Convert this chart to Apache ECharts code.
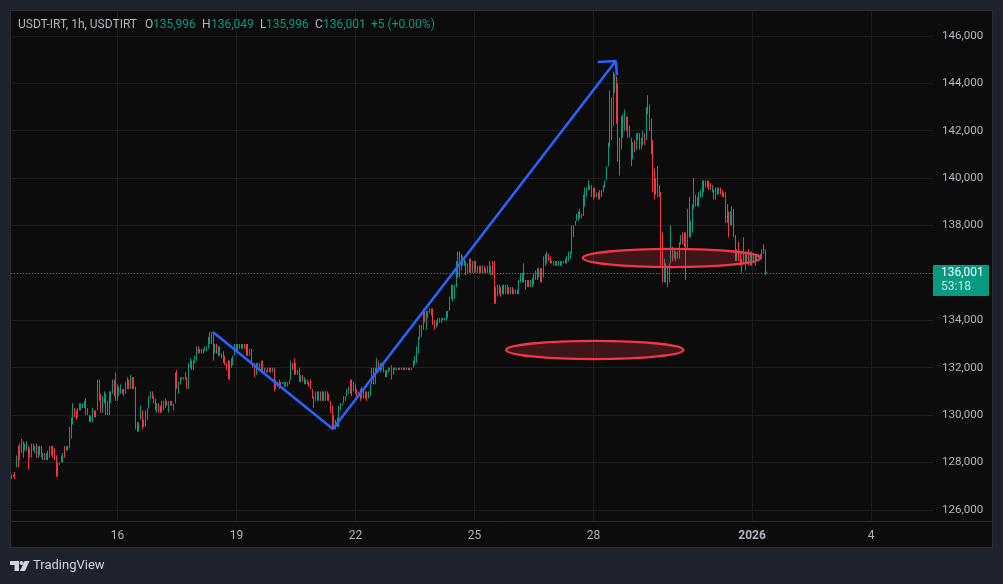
<!DOCTYPE html>
<html><head><meta charset="utf-8">
<style>
html,body{margin:0;padding:0;background:#1e222d;width:1003px;height:584px;overflow:hidden}
#frame{position:absolute;left:10px;top:10px;width:981px;height:536px;background:#0c0c0c;border:1px solid #2a2e39}
#chart{position:absolute;left:0;top:0;width:1003px;height:584px}
</style>
<script src="https://cdn.jsdelivr.net/npm/echarts@6/dist/echarts.min.js"></script>
</head><body><div id="frame"></div><div id="chart"></div>
<script>
const PRICE_UNIT = 100;
const firstOpen = 1274;
// Candles that opened away from the previous close: slot -> open
const gapOpens = {394:1372};
const highs = [
1275,1275,1276,1283,1287,1288,1290,1289,1288,1289,
1287,1286,1288,1288,1287,1288,1287,1287,1287,1284,
1284,1284,1285,1287,1287,1287,1286,1283,1280,1280,
1283,1284,1287,1287,1287,1295,1299,1305,1303,1302,
1303,1305,1305,1305,1306,1307,1303,1300,1300,1303,
1302,1302,1315,1315,1309,1308,1310,1309,1306,1310,
1310,1315,1315,1318,1313,1312,1313,1311,1311,1314,
1316,1315,1317,1316,1316,1312,1297,1297,1304,1302,
1298,1302,1303,1308,1310,1310,1308,1307,1305,1305,
1304,1306,1306,1307,1306,1306,1306,1306,1305,1318,
1319,1314,1316,1316,1316,1318,1316,1322,1324,1323,
1323,1325,1329,1329,1328,1328,1328,1329,1329,1333,
1335,1335,1335,1330,1330,1329,1329,1326,1327,1325,
1322,1323,1323,1324,1325,1330,1330,1330,1330,1330,
1330,1330,1330,1330,1328,1328,1322,1322,1322,1322,
1322,1323,1323,1320,1319,1320,1320,1320,1320,1320,
1315,1314,1315,1314,1314,1314,1314,1314,1315,1323,1322,
1324,1322,1319,1320,1317,1317,1316,1315,1315,1314,
1315,1311,1308,1310,1310,1310,1310,1310,1310,1310,
1310,1309,1306,1304,1300,1298,1299,1304,
1305,1305,1308,1308,1311,1312,1315,1315,1314,1313,
1311,1310,1311,1312,1311,1310,1310,1310,1313,1320,
1320,1320,1324,1323,1322,1322,1321,1319,1319,1320,
1320,1321,1320,1320,1320,1320,1320,1320,1320,1320,
1320,1320,1320,1320,1323,1325,1329,1333,1338,1338,1345,
1345,1344,1344,1345,1345,1345,1340,1340,1341,1341,
1341,1341,1341,1344,1344,1350,1355,1355,1355,1365,
1369,1369,1368,1367,1367,1365,1364,1366,1366,1365,
1365,1365,1363,1363,1363,1363,1363,1362,1363,1365,
1363,1365,1365,1354,1355,1355,1354,1355,1355,1355,
1355,1354,1354,1354,1353,1353,1353,1357,1360,1360,
1364,1357,1357,1357,1357,1358,1360,1361,1362,1362,
1362,1362,1367,1368,1369,1368,1367,1365,1365,1365,
1365,1365,1365,1365,1365,1366,1367,1369,1369,
1380,1380,1382,1385,1386,1387,1385,1393,1396,1396,
1399,1397,1397,1396,1396,1394,1394,1395,1395,1397,
1399,1405,1415,1437,1434,1445,1444,1443,1440,1417,
1426,1427,1429,1426,1426,1422,1417,1415,1416,1419,
1419,1419,1417,1420,1419,1430,1435,1431,1425,1416,
1404,1400,1405,1397,1394,1377,1366,1364,1363,1364,
1380,1371,1370,1369,1369,1373,1376,1377,1377,1377,
1387,1392,1382,1389,1400,1393,1392,1394,1395,1399,
1399,1399,1399,1399,1398,1397,1395,1396,1396,1396,
1396,1395,1394,1394,1389,1386,1386,1388,1387,1376,
1370,1373,1369,1366,1375,1368,1369,1370,1369,1369,
1368,1368,1368,1368,1368,1370,1372,1370,1360.49];
const lows = [
1273,1274,1273,1278,1278,1281,1284,1282,1285,1285,
1277,1282,1282,1285,1284,1282,1282,1283,1282,1281,
1281,1281,1281,1282,1283,1282,1281,1274,1274,1279,
1280,1280,1282,1285,1285,1286,1290,1296,1299,1298,
1299,1302,1302,1303,1303,1300,1300,1297,1297,1297,
1299,1299,1302,1306,1301,1301,1305,1300,1300,1300,
1305,1309,1308,1306,1306,1308,1309,1309,1308,1309,
1311,1311,1311,1311,1311,1294,1293,1293,1298,1294,
1295,1295,1298,1303,1307,1307,1305,1302,1301,1301,
1301,1301,1302,1303,1304,1301,1304,1304,1302,1305,
1311,1309,1313,1315,1315,1315,1311,1311,1320,1319,
1319,1322,1323,1326,1326,1326,1326,1327,1327,1328,
1330,1330,1323,1326,1326,1325,1325,1324,1322,1321,
1319,1315,1315,1320,1321,1325,1327,1326,1328,1328,
1328,1328,1325,1325,1325,1322,1320,1316,1317,1320,
1320,1319,1318,1318,1318,1318,1318,1318,1318,1310,
1311,1312,1311,1312,1313,1312,1312,1312,1313,1315,1319,
1317,1317,1317,1314,1314,1314,1313,1313,1313,1312,
1311,1307,1303,1306,1306,1306,1306,1306,1306,1306,
1306,1306,1301,1294,1294,1294,1295,1295,
1302,1304,1305,1306,1308,1309,1309,1308,1310,1309,
1308,1308,1306,1307,1307,1307,1306,1307,1308,1313,
1313,1313,1318,1318,1318,1319,1318,1316,1316,1318,
1319,1315,1317,1319,1319,1319,1319,1319,1319,1319,
1319,1319,1319,1319,1320,1321,1322,1326,1332,1333,1336,
1339,1336,1341,1343,1342,1338,1336,1337,1338,1339,
1339,1340,1340,1340,1341,1344,1349,1348,1349,1354,
1358,1358,1361,1363,1363,1359,1360,1360,1360,1360,
1360,1360,1360,1360,1360,1360,1360,1360,1360,1360,
1359,1359,1347,1347,1350,1351,1350,1351,1351,1351,
1351,1351,1351,1351,1351,1351,1351,1351,1356,1356,
1356,1353,1354,1354,1354,1354,1355,1357,1357,1358,
1356,1356,1358,1363,1364,1365,1364,1364,1363,1363,
1363,1363,1363,1363,1364,1364,1364,1365,1366,
1368,1375,1380,1382,1382,1383,1383,1384,1388,1392,
1395,1395,1392,1391,1392,1392,1391,1391,1392,1394,
1396,1399,1405,1413,1416,1422,1436,1423,1407,1401,
1412,1417,1420,1420,1417,1417,1405,1408,1411,1412,
1416,1412,1412,1414,1414,1416,1427,1420,1410,1394,
1391,1393,1392,1392,1363,1356,1356,1356,1354,1356,
1364,1365,1366,1365,1366,1366,1372,1372,1371,1357,
1370,1375,1375,1377,1387,1388,1388,1388,1392,1392,
1394,1396,1396,1395,1395,1394,1391,1391,1393,1393,
1393,1392,1392,1381,1381,1375,1380,1380,1375,1365,
1365,1365,1364,1360,1364,1361,1364,1363,1363,1363,
1364,1363,1365,1366,1366,1366,1368,1359,1359.96];
const closes = [
1275,1275,1274,1282,1279,1287,1289,1284,1287,1288,
1284,1286,1287,1285,1286,1283,1286,1285,1283,1284,
1282,1283,1285,1286,1286,1283,1282,1276,1279,1280,
1282,1283,1282,1286,1285,1295,1298,1303,1300,1299,
1302,1304,1304,1305,1306,1301,1302,1298,1299,1302,
1301,1300,1314,1315,1302,1307,1309,1301,1305,1309,
1310,1314,1310,1313,1308,1311,1312,1309,1310,1313,
1315,1314,1316,1312,1315,1295,1294,1297,1303,1296,
1297,1296,1302,1308,1309,1307,1306,1303,1304,1303,
1302,1305,1304,1306,1305,1306,1305,1304,1305,1317,
1313,1314,1315,1316,1316,1315,1312,1321,1323,1320,
1322,1324,1328,1326,1327,1326,1327,1327,1328,1332,
1331,1334,1328,1329,1327,1328,1326,1325,1323,1322,
1320,1317,1322,1323,1324,1329,1330,1327,1329,1328,
1329,1328,1327,1326,1327,1323,1321,1318,1321,1322,
1321,1322,1319,1319,1318,1319,1320,1319,1320,1311,
1312,1313,1314,1313,1313,1314,1312,1313,1314,1322,1321,
1318,1320,1318,1315,1316,1315,1315,1314,1314,1313,
1312,1308,1304,1309,1307,1309,1307,1309,1307,1309,
1307,1306,1302,1295,1297,1295,1298,1303,
1304,1305,1307,1308,1310,1311,1310,1309,1311,1310,
1309,1310,1307,1311,1309,1309,1308,1309,1313,1319,
1317,1319,1323,1319,1321,1320,1319,1317,1318,1320,
1320,1320,1318,1319,1320,1319,1320,1319,1320,1319,
1320,1319,1320,1320,1323,1324,1328,1332,1337,1338,1343,
1340,1343,1343,1344,1343,1339,1337,1338,1340,1340,
1340,1341,1341,1344,1344,1349,1351,1354,1355,1364,
1368,1362,1363,1364,1365,1360,1361,1365,1360,1364,
1361,1361,1361,1362,1361,1362,1361,1361,1362,1361,
1362,1360,1355,1351,1353,1354,1352,1354,1352,1353,
1352,1351,1352,1351,1352,1351,1352,1356,1358,1359,
1357,1354,1356,1355,1356,1357,1356,1360,1358,1361,
1360,1358,1366,1367,1368,1366,1365,1364,1364,1364,
1364,1364,1364,1364,1365,1365,1366,1368,1368,
1379,1379,1382,1384,1385,1386,1384,1392,1395,1395,
1398,1396,1393,1395,1393,1393,1392,1394,1393,1396,
1398,1404,1414,1433,1420,1443,1443,1425,1417,1412,
1425,1426,1427,1421,1425,1418,1410,1414,1412,1418,
1418,1413,1416,1419,1415,1429,1430,1424,1416,1402,
1395,1394,1397,1393,1391,1358,1362,1358,1361,1363,
1369,1366,1368,1366,1369,1372,1375,1373,1372,1370,
1386,1377,1380,1388,1391,1389,1391,1393,1394,1398,
1395,1398,1397,1396,1395,1396,1392,1395,1394,1395,
1394,1393,1392,1389,1385,1380,1384,1387,1376,1367,
1369,1368,1366,1365,1366,1367,1368,1365,1368,1367,
1366,1365,1367,1368,1367,1369,1368,1359.96,1360.01];

const SLOT_COUNT = 558;
const tickIndexes = [64,136,208,280,352,448,520];
const tickLabels = ['16','19','22','25','28','2026','4'];
const priceTicks = [126000,128000,130000,132000,134000,136000,138000,140000,142000,144000,146000];
const lastPrice = 136001;
const countdown = '53:18';

// Drawn lines: candle slot index, price
const trendSlots = [121.7,194.3,365.5];
const trendPrices = [133507,129415,144941];
const arrowSlots = [354.6,365.5,366.2];
const arrowPrices = [144900,144941,144350];
// Ellipses: centre slot, centre price, half width in slots, half height in price
const ellipseSlots = [399.4,352.8];
const ellipsePrices = [136630,132748];
const ellipseHalfSlots = [53.8,53.6];
const ellipseHalfPrices = [385,385];

const legendTitle = 'USDT-IRT, 1h, USDTIRT';
const legendKeys = ['O','H','L','C'];
const legendValues = ['135,996','136,049','135,996','136,001'];
const legendChange = '+5 (+0.00%)';

const UP='#089981', DOWN='#f23645', TXT='#b2b5be', GRID='#1e1e1e', EDGE='#2a2e39', BLUE='#2962ff';
const FONT='Roboto';

const categories = Array.from({length:SLOT_COUNT},(_,i)=>{
  const k=tickIndexes.indexOf(i); return k>=0?tickLabels[k]:'';
});
const isTick = i => tickIndexes.indexOf(i)>=0;
const candles = closes.map((c,i)=>{
  const o = gapOpens[i]!==undefined?gapOpens[i]:(i===0?firstOpen:closes[i-1]);
  return [o*PRICE_UNIT,c*PRICE_UNIT,lows[i]*PRICE_UNIT,highs[i]*PRICE_UNIT];
});
const zip=(a,b)=>a.map((v,i)=>[v,b[i]]);
const ellipseData = ellipseSlots.map((s,i)=>[s,ellipsePrices[i],ellipseHalfSlots[i],ellipseHalfPrices[i]]);

const legendKeyX=[145,202,260,315], legendValX=[153,211,266,323];
const legendText=(style,x,color)=>({type:'text',x,y:25,z:50,silent:true,style:Object.assign({fill:color,font:'12px '+FONT,textVerticalAlign:'middle'},style)});
const graphics=[
  legendText({text:legendTitle},18,TXT),
  ...legendKeys.map((k,i)=>legendText({text:k},legendKeyX[i],TXT)),
  ...legendValues.map((v,i)=>legendText({text:v},legendValX[i],UP)),
  legendText({text:legendChange},371,UP),
  {type:'line',z:40,silent:true,shape:{x1:11,y1:521.5,x2:992,y2:521.5},style:{stroke:EDGE,lineWidth:1}},
  {type:'rect',z:60,silent:true,shape:{x:933,y:265,width:56,height:31,r:1},style:{fill:UP}},
  {type:'text',x:941,y:273,z:61,silent:true,style:{text:lastPrice.toLocaleString('en-US'),fill:'#ffffff',font:'12px '+FONT,textVerticalAlign:'middle'}},
  {type:'text',x:941,y:287,z:61,silent:true,style:{text:countdown,fill:'#c8e8e0',font:'12px '+FONT,textVerticalAlign:'middle'}},
  {type:'polygon',silent:true,z:50,shape:{points:[[10,561],[19,561],[19,571],[14.5,571],[14.5,565],[10,565]]},style:{fill:'#d1d4dc'}},
  {type:'circle',silent:true,z:50,shape:{cx:21.5,cy:563,r:2},style:{fill:'#d1d4dc'}},
  {type:'polygon',silent:true,z:50,shape:{points:[[24.5,561],[29.5,561],[25,571],[20,571]]},style:{fill:'#d1d4dc'}},
  {type:'text',x:33,y:566,z:50,silent:true,style:{text:'TradingView',fill:'#d1d4dc',font:'13px '+FONT,textVerticalAlign:'middle'}}
];

const chart = echarts.init(document.getElementById('chart'),null,{renderer:'canvas'});
chart.setOption({
  backgroundColor:'transparent',
  animation:false,
  graphic:graphics,
  grid:{left:11,top:11,width:922,height:510,containLabel:false},
  xAxis:[
    {type:'category',data:categories,boundaryGap:true,
     axisLine:{show:false},axisTick:{show:false},
     splitLine:{show:true,alignWithLabel:true,interval:isTick,lineStyle:{color:GRID,width:1}},
     axisLabel:{show:true,interval:isTick,color:TXT,margin:9,fontFamily:FONT,fontSize:12,
       formatter:v=>v==='2026'?'{b|2026}':v,
       rich:{b:{fontFamily:FONT,fontSize:12,fontWeight:'bold',color:TXT}}}},
    {type:'value',show:false,min:-0.5,max:SLOT_COUNT-0.5,splitLine:{show:false}}
  ],
  yAxis:{type:'value',position:'right',min:125532,max:147050,
    axisLine:{show:false},
    axisTick:{show:false,customValues:priceTicks},
    splitLine:{show:true,lineStyle:{color:GRID,width:1}},
    axisLabel:{color:TXT,margin:9,fontFamily:FONT,fontSize:11.6,customValues:priceTicks,
      formatter:v=>Math.round(v).toLocaleString('en-US')}},
  series:[
    {name:'USDT-IRT',type:'candlestick',xAxisIndex:0,yAxisIndex:0,data:candles,barWidth:1.2,z:5,
     itemStyle:{color:UP,color0:DOWN,borderColor:UP,borderColor0:DOWN,borderColorDoji:UP,borderWidth:1},
     markLine:{silent:true,symbol:'none',animation:false,label:{show:false},
       lineStyle:{color:UP,type:[1,2],width:1},data:[{yAxis:lastPrice}]}},
    {name:'Ellipses',type:'custom',xAxisIndex:1,yAxisIndex:0,z:6,silent:true,data:ellipseData,clip:true,
     renderItem:(p,api)=>{
       const c=api.coord([api.value(0),api.value(1)]);
       const e=api.coord([api.value(0)+api.value(2),api.value(1)+api.value(3)]);
       return {type:'ellipse',shape:{cx:c[0],cy:c[1],rx:Math.abs(e[0]-c[0]),ry:Math.abs(e[1]-c[1])},
         style:{fill:'rgba(242,54,69,0.22)',stroke:DOWN,lineWidth:2.4}};
     }},
    {name:'Trend',type:'line',xAxisIndex:1,yAxisIndex:0,z:7,silent:true,showSymbol:false,symbol:'none',
     data:zip(trendSlots,trendPrices),lineStyle:{color:BLUE,width:2.6}},
    {name:'Arrow',type:'line',xAxisIndex:1,yAxisIndex:0,z:7,silent:true,showSymbol:false,symbol:'none',
     data:zip(arrowSlots,arrowPrices),lineStyle:{color:BLUE,width:2.6}}
  ]
});
</script></body></html>
